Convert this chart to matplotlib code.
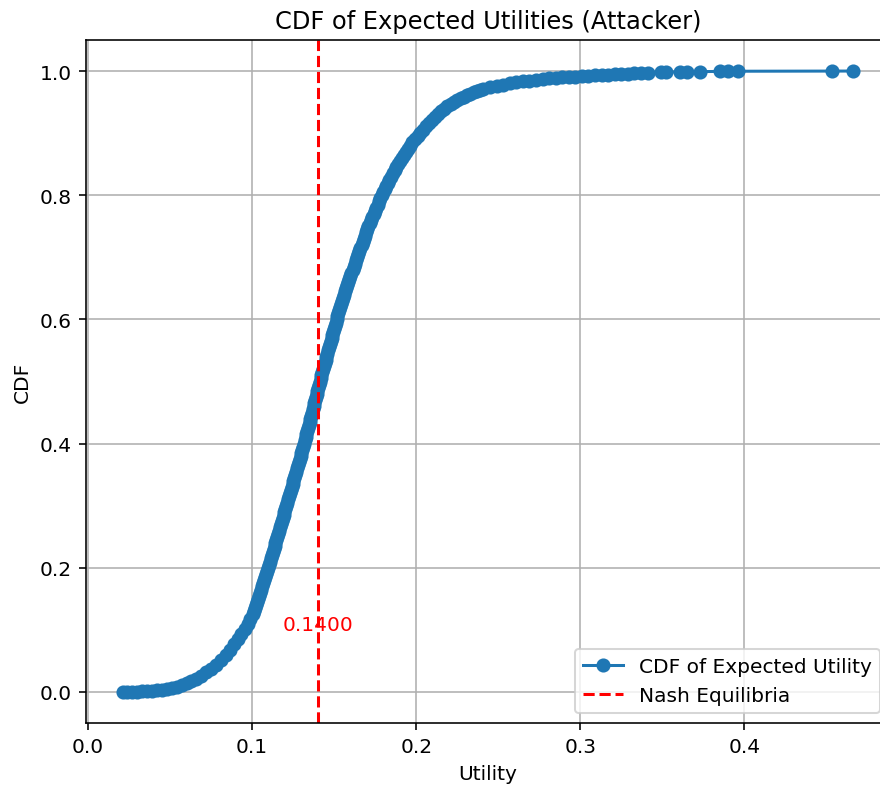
import matplotlib
matplotlib.use("Agg")
import matplotlib.pyplot as plt

# Lower tail
tail_low_u = [
    0.0210, 0.0240, 0.0270, 0.0300, 0.0330, 0.0360, 0.0390, 0.0420, 0.0450, 0.0480,
    0.0510, 0.0540, 0.0570, 0.0600, 0.0630, 0.0660, 0.0690, 0.0720, 0.0750, 0.0780,
    0.0810, 0.0840, 0.0865, 0.0890, 0.0915, 0.0935, 0.0955, 0.0972, 0.0988, 0.1003,
]
tail_low_cdf = [
    0.0000, 0.0001, 0.0003, 0.0005, 0.0008, 0.0012, 0.0018, 0.0026, 0.0036, 0.0049,
    0.0065, 0.0085, 0.0110, 0.0140, 0.0175, 0.0215, 0.0262, 0.0315, 0.0375, 0.0442,
    0.0518, 0.0603, 0.0680, 0.0765, 0.0855, 0.0935, 0.1020, 0.1100, 0.1180, 0.1260,
]

# Steep body of the distribution
body_u = [
    0.1009, 0.1016, 0.1023, 0.1030, 0.1037, 0.1043, 0.1049, 0.1056, 0.1062, 0.1068,
    0.1074, 0.1080, 0.1086, 0.1092, 0.1098,
    0.1104, 0.1109, 0.1115, 0.1120, 0.1126, 0.1131, 0.1137, 0.1142, 0.1148, 0.1153,
    0.1159, 0.1164, 0.1170, 0.1175, 0.1181, 0.1186, 0.1192, 0.1197, 0.1203, 0.1208,
    0.1213, 0.1219, 0.1224, 0.1230, 0.1235, 0.1240, 0.1246, 0.1251, 0.1257, 0.1262,
    0.1268, 0.1273, 0.1279, 0.1284, 0.1290, 0.1295, 0.1300, 0.1306, 0.1311, 0.1317,
    0.1322, 0.1326, 0.1331, 0.1336, 0.1341, 0.1345, 0.1350, 0.1355, 0.1360, 0.1364,
    0.1369, 0.1374, 0.1379, 0.1384, 0.1388, 0.1393, 0.1398, 0.1403, 0.1407, 0.1412,
    0.1417, 0.1422, 0.1427, 0.1433, 0.1438, 0.1443, 0.1448, 0.1453, 0.1458, 0.1464,
    0.1469, 0.1474, 0.1479, 0.1484, 0.1489, 0.1494, 0.1500, 0.1505, 0.1510, 0.1515,
    0.1520, 0.1526, 0.1531, 0.1537, 0.1543, 0.1549, 0.1555, 0.1561, 0.1567, 0.1573,
    0.1579, 0.1586, 0.1592, 0.1599, 0.1605, 0.1612, 0.1619, 0.1626, 0.1633, 0.1640,
    0.1646, 0.1653, 0.1660, 0.1667, 0.1674, 0.1681, 0.1688, 0.1695, 0.1702, 0.1709,
    0.1716, 0.1724, 0.1732, 0.1740, 0.1748, 0.1756, 0.1764, 0.1773, 0.1781, 0.1790,
    0.1799, 0.1808, 0.1817, 0.1827, 0.1837, 0.1847, 0.1857, 0.1868, 0.1879, 0.1890,
    0.1901, 0.1913, 0.1925, 0.1937, 0.1950, 0.1963, 0.1977, 0.1992, 0.2008, 0.2025,
]
body_cdf = [
    0.130, 0.135, 0.140, 0.145, 0.150, 0.155, 0.160, 0.165, 0.170, 0.175,
    0.180, 0.185, 0.190, 0.195, 0.200,
    0.205, 0.210, 0.215, 0.220, 0.225, 0.230, 0.235, 0.240, 0.245, 0.250,
    0.255, 0.260, 0.265, 0.270, 0.275, 0.280, 0.285, 0.290, 0.295, 0.300,
    0.305, 0.310, 0.315, 0.320, 0.325, 0.330, 0.335, 0.340, 0.345, 0.350,
    0.355, 0.360, 0.365, 0.370, 0.375, 0.380, 0.385, 0.390, 0.395, 0.400,
    0.405, 0.410, 0.415, 0.420, 0.425, 0.430, 0.435, 0.440, 0.445, 0.450,
    0.455, 0.460, 0.465, 0.470, 0.475, 0.480, 0.485, 0.490, 0.495, 0.500,
    0.505, 0.510, 0.515, 0.520, 0.525, 0.530, 0.535, 0.540, 0.545, 0.550,
    0.555, 0.560, 0.565, 0.570, 0.575, 0.580, 0.585, 0.590, 0.595, 0.600,
    0.605, 0.610, 0.615, 0.620, 0.625, 0.630, 0.635, 0.640, 0.645, 0.650,
    0.655, 0.660, 0.665, 0.670, 0.675, 0.680, 0.685, 0.690, 0.695, 0.700,
    0.705, 0.710, 0.715, 0.720, 0.725, 0.730, 0.735, 0.740, 0.745, 0.750,
    0.755, 0.760, 0.765, 0.770, 0.775, 0.780, 0.785, 0.790, 0.795, 0.800,
    0.805, 0.810, 0.815, 0.820, 0.825, 0.830, 0.835, 0.840, 0.845, 0.850,
    0.855, 0.860, 0.865, 0.870, 0.875, 0.880, 0.885, 0.890, 0.895, 0.900,
]

# Upper tail, flattening towards 1 with a few large outliers
tail_high_u = [
    0.2042, 0.2060, 0.2078, 0.2095, 0.2112, 0.2130, 0.2150, 0.2170, 0.2190, 0.2210,
    0.2230, 0.2250, 0.2270, 0.2290, 0.2310, 0.2330, 0.2350, 0.2370, 0.2390, 0.2410,
    0.2450, 0.2490, 0.2530, 0.2570, 0.2610, 0.2650, 0.2690, 0.2730, 0.2770, 0.2810,
    0.2850, 0.2890, 0.2930, 0.2970, 0.3010, 0.3050, 0.3090, 0.3130, 0.3170, 0.3210,
    0.3250, 0.3290, 0.3330, 0.3370, 0.3410, 0.3490, 0.3520, 0.3610, 0.3650, 0.3730,
    0.3850, 0.3900, 0.3960, 0.4537, 0.4665,
]
tail_high_cdf = [
    0.9055, 0.9110, 0.9163, 0.9215, 0.9260, 0.9305, 0.9350, 0.9395, 0.9433, 0.9470,
    0.9503, 0.9535, 0.9563, 0.9590, 0.9613, 0.9635, 0.9656, 0.9675, 0.9693, 0.9710,
    0.9738, 0.9762, 0.9783, 0.9802, 0.9819, 0.9834, 0.9847, 0.9859, 0.9870, 0.9880,
    0.9889, 0.9897, 0.9905, 0.9912, 0.9919, 0.9926, 0.9932, 0.9938, 0.9944, 0.9950,
    0.9955, 0.9960, 0.9965, 0.9970, 0.9974, 0.9980, 0.9983, 0.9987, 0.9989, 0.9991,
    0.9993, 0.9995, 0.9997, 0.9998, 1.0000,
]

nash_utility = 0.14

utility = tail_low_u + body_u + tail_high_u
cdf = tail_low_cdf + body_cdf + tail_high_cdf

DPI = 145
fig = plt.figure(figsize=(880 / DPI, 791 / DPI), dpi=DPI)
ax = fig.add_axes([86 / 880, 1 - 724 / 791, 804 / 880, 683 / 791])

ax.plot(utility, cdf, marker='o', linestyle='-', label='CDF of Expected Utility')
ax.axvline(nash_utility, color='red', linestyle='--', label='Nash Equilibria')
ax.text(nash_utility, 0.1, f'{nash_utility:.4f}', color='red', ha='center')

ax.set_title('CDF of Expected Utilities (Attacker)')
ax.set_xlabel('Utility')
ax.set_ylabel('CDF')
ax.legend(loc='lower right')
ax.grid(True)

fig.savefig('out.png', dpi=DPI)
plt.close(fig)
